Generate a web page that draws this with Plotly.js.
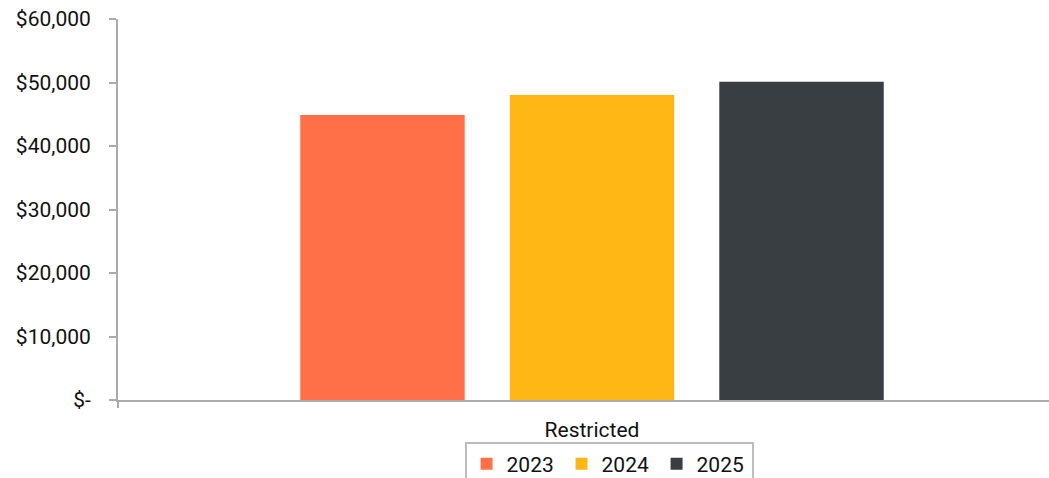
<!DOCTYPE html>
<html>
<head>
<meta charset="utf-8">
<script src="https://cdn.plot.ly/plotly-3.0.1.min.js"></script>
<style>
html, body { margin:0; padding:0; overflow:hidden; background:#fff; width:1049px; height:478px; }
#chart { width:1066px; height:478px; }
</style>
</head>
<body>
<div id="chart"></div>
<script>
const categories = ['Restricted'];
const seriesNames = ['2023', '2024', '2025'];
const values2023 = [44900];
const values2024 = [48050];
const values2025 = [50100];
const tickValues = [0, 10000, 20000, 30000, 40000, 50000, 60000];
const tickLabels = ['$-', '$10,000', '$20,000', '$30,000', '$40,000', '$50,000', '$60,000'];

const colors = ['#FF7049', '#FFB716', '#393E42'];
const allValues = [values2023, values2024, values2025];

const traces = seriesNames.map((name, i) => ({
  type: 'bar',
  name: name,
  x: categories,
  y: allValues[i],
  marker: { color: colors[i] },
  hoverinfo: 'skip'
}));

const layout = {
  width: 1066,
  height: 478,
  margin: { l: 118, r: 0, t: 19, b: 77.5, pad: 0, autoexpand: false },
  paper_bgcolor: '#ffffff',
  plot_bgcolor: '#ffffff',
  font: { family: 'Roboto, sans-serif', color: '#111111', size: 21 },
  barmode: 'group',
  bargap: 0.337,
  bargroupgap: 0.215,
  showlegend: true,
  legend: {
    orientation: 'h',
    x: 0.518, xanchor: 'center',
    y: -0.109, yanchor: 'top',
    font: { size: 21, color: '#111111' },
    bordercolor: '#bdbdbd', borderwidth: 2,
    bgcolor: '#ffffff',
    entrywidth: 50,
    entrywidthmode: 'pixels'
  },
  xaxis: {
    type: 'category',
    showgrid: false,
    zeroline: false,
    showline: true,
    linecolor: '#ababab',
    linewidth: 2,
    ticks: 'outside',
    tickson: 'boundaries',
    ticklen: 6,
    tickcolor: '#ababab',
    tickwidth: 2,
    tickfont: { size: 21 },
    ticklabelstandoff: 10
  },
  yaxis: {
    range: [0, 60000],
    tickvals: tickValues,
    ticktext: tickLabels,
    showgrid: false,
    zeroline: false,
    showline: true,
    linecolor: '#ababab',
    linewidth: 2,
    ticks: 'outside',
    ticklen: 7,
    tickcolor: '#ababab',
    tickwidth: 2,
    tickfont: { size: 21 },
    ticklabelstandoff: 14
  }
};

Plotly.newPlot('chart', traces, layout, { displayModeBar: false, staticPlot: true });
</script>
</body>
</html>
